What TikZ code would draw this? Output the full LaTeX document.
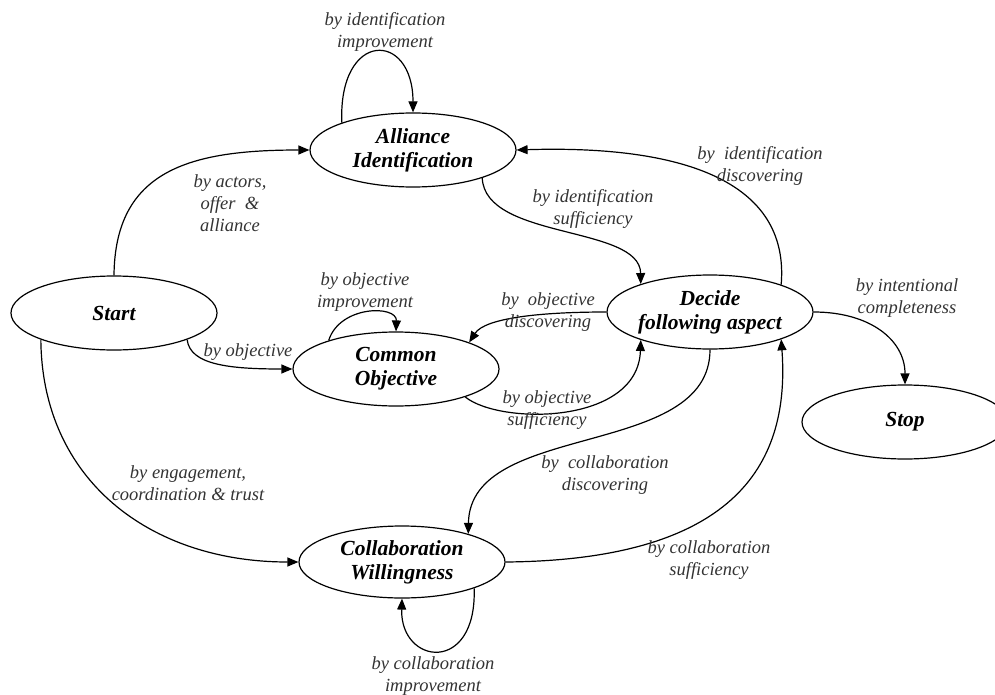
\documentclass[tikz,border=0pt]{standalone}
\usepackage{fontspec}
\setmainfont{Liberation Serif}
\usetikzlibrary{shapes.geometric,arrows.meta}
\begin{document}
\begin{tikzpicture}[x=1pt,y=-1pt,
  state/.style={draw, line width=1.2pt, ellipse, minimum width=206pt, minimum height=74pt, inner sep=0pt},
  stname/.style={font=\fontsize{21.5}{24}\selectfont\bfseries\itshape, align=center, inner sep=0pt},
  lbl/.style={font=\fontsize{18.5}{22}\selectfont\itshape, align=center, text=black!80, inner sep=0pt},
  edge/.style={draw, line width=1.2pt, -{Triangle[length=11pt,width=9pt]}}]
\useasboundingbox (0,0) rectangle (995,695);
\clip (0,0) rectangle (995,695);
% states
\node[state, label={[stname]center:Start}] (S) at (114,313) {};
\node[state, label={[stname]center:Alliance\\Identification}] (A) at (413,150) {};
\node[state, label={[stname]center:Common\\Objective}] (C) at (396,369) {};
\node[state, label={[stname]center:Decide\\following aspect}] (D) at (710,312) {};
\node[state, label={[stname]center:Stop}] (T) at (905,422) {};
\node[state, minimum height=72pt, label={[stname]center:Collaboration\\Willingness}] (W) at (402,562) {};
% edges
\draw[edge] (S.north) .. controls (115,170) and (190,150) .. (A.west);
\draw[edge] (A.159) .. controls (338,30) and (413,30) .. (A.north);
\draw[edge] (A.-22) .. controls (485,240) and (640,225) .. (D.158);
\draw[edge] (D.21) .. controls (790,180) and (680,145) .. (A.east);
\draw[edge] (S.-20) .. controls (190,365) and (230,369) .. (C.west);
\draw[edge] (C.157) .. controls (340,305) and (397,305) .. (C.north);
\draw[edge] (D.west) .. controls (540,312) and (485,318) .. (C.20);
\draw[edge] (C.-22) .. controls (500,425) and (638,425) .. (D.-158);
\draw[edge] (S.-160) .. controls (42,480) and (150,562) .. (W.west);
\draw[edge] (D.south) .. controls (710,460) and (470,420) .. (W.23);
\draw[edge] (W.east) .. controls (740,560) and (790,460) .. (D.-21);
\draw[edge] (W.-20) .. controls (477,675) and (400,665) .. (W.south);
\draw[edge] (D.east) .. controls (870,312) and (905,340) .. (T.north);
% labels
\node[lbl] (l1) at (230,203) {by actors,\\offer~ \&\\alliance};
\node[lbl] (l2) at (385,32) {by identification\\improvement};
\node[lbl] (l3) at (593,209) {by identification\\sufficiency};
\node[lbl] (l4) at (760,166) {by~ identification\\discovering};
\node[lbl] (l5) at (248,352) {by objective};
\node[lbl] (l6) at (365,292) {by objective\\improvement};
\node[lbl] (l7) at (548,312) {by~ objective\\discovering};
\node[lbl] (l8) at (547,410) {by objective\\sufficiency};
\node[lbl] (l9) at (188,483) {by engagement,\\coordination \& trust};
\node[lbl] (l10) at (605,475) {by~ collaboration\\discovering};
\node[lbl] (l11) at (709,560) {by collaboration\\sufficiency};
\node[lbl] (l12) at (433,676) {by collaboration\\improvement};
\node[lbl] (l13) at (907,298) {by intentional\\completeness};
\end{tikzpicture}
\end{document}
